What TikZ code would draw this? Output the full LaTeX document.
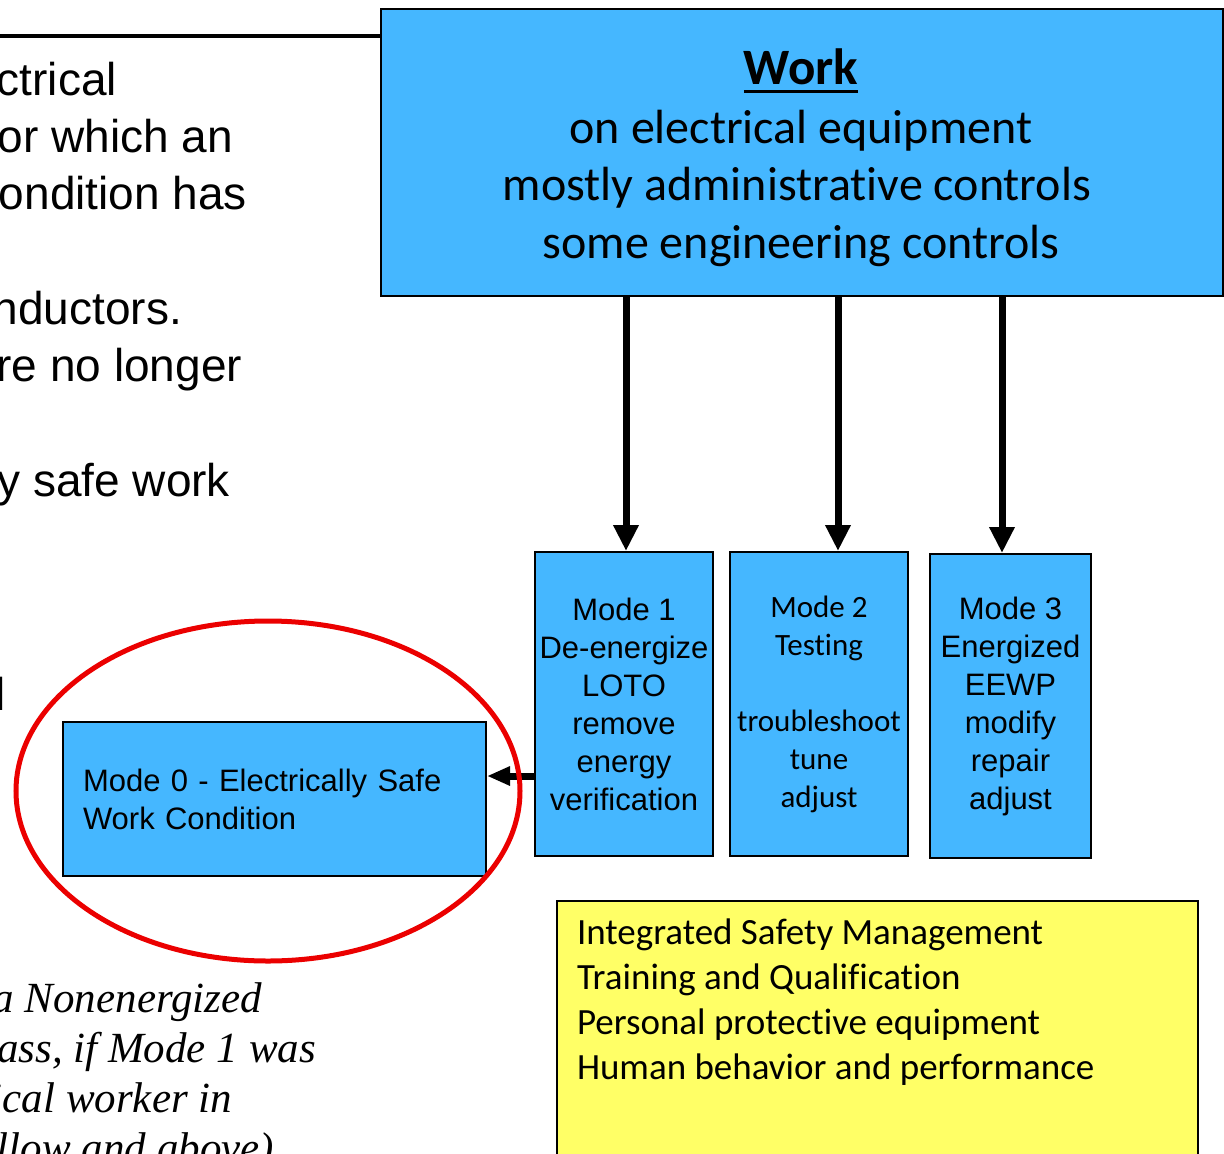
\documentclass[tikz,border=0pt]{standalone}
\usepackage{fontspec}
\setmainfont{Liberation Sans}
\newfontfamily\arialf{Liberation Sans}
\newfontfamily\calf[Ligatures=NoCommon]{Carlito}
\newfontfamily\serf{Liberation Serif}
\usetikzlibrary{arrows.meta,shapes.geometric}
\definecolor{boxblue}{RGB}{69,183,255}
\definecolor{noteyellow}{RGB}{255,255,102}
\definecolor{ringred}{RGB}{235,0,0}

\begin{document}
\begin{tikzpicture}[x=1pt,y=-1pt,
  blk/.style={draw=black, line width=2pt, fill=boxblue, inner sep=0pt, anchor=north west},
  modebox/.style={blk, align=center},
  arialmode/.style={font=\arialf\fontsize{31}{38}\selectfont},
  calmode/.style={font=\calf\fontsize{31}{38}\selectfont},
  txt/.style={inner sep=0pt, outer sep=0pt},
  bodytxt/.style={txt, anchor=base east, font=\arialf\fontsize{46}{58}\selectfont},
  notetxt/.style={txt, anchor=base east, font=\serf\itshape\fontsize{43}{50}\selectfont},
  worktxt/.style={txt, anchor=base, font=\calf\fontsize{48}{58}\selectfont},
  listtxt/.style={txt, anchor=base west, font=\calf\fontsize{37}{45}\selectfont},
  downarrow/.style={line width=7pt, -{Triangle[length=26pt,width=24pt]}},
  sidearrow/.style={line width=7pt, -{Triangle[length=23pt,width=18pt]}}
]
\useasboundingbox (0,0) rectangle (1224,1154);
\clip (0,0) rectangle (1224,1154);

% running text on the left (continues past the left edge)
\node[bodytxt] (b1) at (117,95)  {ctrical};
\node[bodytxt] (b2) at (233,152) {or which an};
\node[bodytxt] (b3) at (247,209) {ondition has};
\node[bodytxt] (b4) at (182,324) {nductors.};
\node[bodytxt] (b5) at (242,381) {re no longer};
\node[bodytxt] (b6) at (230,496) {y safe work};
\node[bodytxt] (b7) at (6,710)   {l};

% italic note at the bottom left
\node[notetxt] (n1) at (262,1012) {a Nonenergized};
\node[notetxt] (n2) at (316,1062) {ass, if Mode 1 was};
\node[notetxt] (n3) at (232,1112) {ical worker in};
\node[notetxt] (n4) at (274,1162) {llow and above)};

% main work box
\node[blk, minimum width=842pt, minimum height=287pt] (work) at (380,8) {};
\coordinate (topy) at (0,36);
\draw[line width=4pt] (topy) -- (topy -| work.west);

\node[txt, anchor=base, font=\calf\bfseries\fontsize{51}{58}\selectfont] (wt) at (801,84) {Work};
\draw[line width=3pt] ([yshift=-7.5pt]wt.base west) -- ([yshift=-7.5pt]wt.base east);
\node[worktxt] (w1) at (801,143) {on electrical equipment};
\node[worktxt] (w2) at (797,200) {mostly administrative controls};
\node[worktxt] (w3) at (801,258) {some engineering controls};

% the three work modes
\node[modebox, arialmode, minimum width=178pt, minimum height=304pt] (m1) at (534,551)
  {Mode 1\\De-energize\\LOTO\\remove\\energy\\verification};
\node[modebox, calmode, minimum width=178pt, minimum height=304pt] (m2) at (729,551)
  {Mode 2\\Testing\\\mbox{}\\troubleshoot\\tune\\adjust};
\node[modebox, arialmode, minimum width=161pt, minimum height=304pt] (m3) at (929,553)
  {Mode 3\\Energized\\EEWP\\modify\\repair\\adjust};

\coordinate (x1) at (626,0);
\coordinate (x2) at (838,0);
\coordinate (x3) at (1002,0);
\draw[downarrow] (work.south -| x1) -- (m1.north -| x1);
\draw[downarrow] (work.south -| x2) -- (m2.north -| x2);
\draw[downarrow] (work.south -| x3) -- (m3.north -| x3);

% mode 0 and its highlight
\node[blk, text width=383pt, inner xsep=20pt, minimum height=154pt, align=left,
      font=\arialf\fontsize{31}{38}\selectfont] (m0) at (62,721)
  {Mode 0 - Electrically Safe\\Work Condition};
\coordinate (ay) at (0,776);
\draw[sidearrow] (m1.west |- ay) -- (m0.east |- ay);
\node[ellipse, draw=ringred, line width=5pt, minimum width=504pt, minimum height=340pt, inner sep=0pt] (ring) at (268,791) {};

% supporting programmes
\node[draw=black, line width=2pt, fill=noteyellow, inner sep=0pt, anchor=north west,
      minimum width=641pt, minimum height=300pt] (prog) at (556,900) {};
\node[listtxt] (p1) at (577,944)  {Integrated Safety Management};
\node[listtxt] (p2) at (577,989)  {Training and Qualification};
\node[listtxt] (p3) at (577,1034) {Personal protective equipment};
\node[listtxt] (p4) at (577,1079) {Human behavior and performance};
\end{tikzpicture}
\end{document}
